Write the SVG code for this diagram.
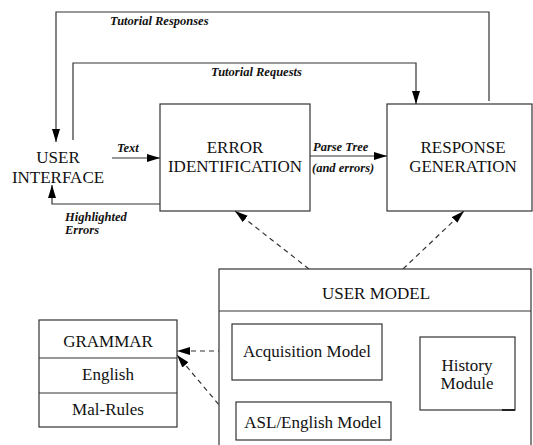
<svg xmlns="http://www.w3.org/2000/svg" width="533" height="445" viewBox="0 0 533 445" font-family="Liberation Serif, Times New Roman, DejaVu Serif, serif">
<style>
.box{fill:#fff;stroke:#333;stroke-width:1.2}
.ln{fill:none;stroke:#333;stroke-width:1.2}
.dash{fill:none;stroke:#333;stroke-width:1.2;stroke-dasharray:5,4}
text{font-family:'Liberation Serif','Times New Roman','DejaVu Serif',serif}
.t{font-size:17px;fill:#111;text-anchor:middle}
.lb{font-size:12.5px;font-weight:bold;font-style:italic;fill:#111}
</style>
<defs>
<marker id="ah" markerUnits="userSpaceOnUse" markerWidth="14" markerHeight="10" refX="13" refY="4" orient="auto">
<path d="M0,0 L13,4 L0,8 Z" fill="#000"/>
</marker>
</defs>
<rect width="533" height="445" fill="#fff"/>
<g id="connectors">
<polyline class="ln" points="489,101 489,12 56,12 56,142" marker-end="url(#ah)"/>
<polyline class="ln" points="73,140 73,63 416,63 416,104" marker-end="url(#ah)"/>
<line class="ln" x1="112" y1="158" x2="160" y2="158" marker-end="url(#ah)"/>
<line class="ln" x1="310" y1="156" x2="387" y2="156" marker-end="url(#ah)"/>
<polyline class="ln" points="160,204 52,204 52,185" marker-end="url(#ah)"/>
<line class="dash" x1="309" y1="269" x2="235" y2="211" marker-end="url(#ah)"/>
<line class="dash" x1="403" y1="269" x2="464" y2="211" marker-end="url(#ah)"/>
<line class="dash" x1="232" y1="351" x2="177" y2="351" marker-end="url(#ah)"/>
<line class="dash" x1="236" y1="425" x2="177" y2="355" marker-end="url(#ah)"/>
<text class="lb" x="110" y="25">Tutorial Responses</text>
<text class="lb" x="211" y="76">Tutorial Requests</text>
<text class="lb" x="117" y="152">Text</text>
<text class="lb" x="313" y="151">Parse Tree</text>
<text class="lb" x="312" y="172">(and errors)</text>
<text class="lb" x="65" y="221">Highlighted</text>
<text class="lb" x="65" y="234">Errors</text>
</g>
<g id="user-interface">
<text class="t" x="58" y="163">USER</text>
<text class="t" x="58" y="183">INTERFACE</text>
</g>
<g id="error-identification">
<rect class="box" x="160" y="104" width="150" height="107"/>
<text class="t" x="235" y="153">ERROR</text>
<text class="t" x="235" y="172">IDENTIFICATION</text>
</g>
<g id="response-generation">
<rect class="box" x="387" y="104" width="145" height="107"/>
<text class="t" x="463" y="153">RESPONSE</text>
<text class="t" x="463" y="172">GENERATION</text>
</g>
<g id="user-model">
<rect class="box" x="219" y="269" width="312" height="200"/>
<line class="ln" x1="219" y1="311" x2="531" y2="311"/>
<text class="t" x="376" y="299">USER MODEL</text>
</g>
<g id="acquisition-model">
<rect class="box" x="232" y="324" width="150" height="56"/>
<text class="t" x="307" y="357">Acquisition Model</text>
</g>
<g id="history-module">
<rect class="box" x="420" y="337" width="95" height="73"/>
<line x1="502" y1="410" x2="515" y2="410" stroke="#222" stroke-width="2"/>
<text class="t" x="467" y="371">History</text>
<text class="t" x="467" y="389">Module</text>
</g>
<g id="asl-english-model">
<rect class="box" x="236" y="402" width="155" height="38"/>
<text class="t" x="313" y="428">ASL/English Model</text>
</g>
<g id="grammar">
<rect class="box" x="39" y="320" width="138" height="107"/>
<line class="ln" x1="39" y1="358" x2="177" y2="358"/>
<line class="ln" x1="39" y1="393" x2="177" y2="393"/>
<text class="t" x="108" y="347">GRAMMAR</text>
<text class="t" x="108" y="380">English</text>
<text class="t" x="108" y="415">Mal-Rules</text>
</g>
</svg>
